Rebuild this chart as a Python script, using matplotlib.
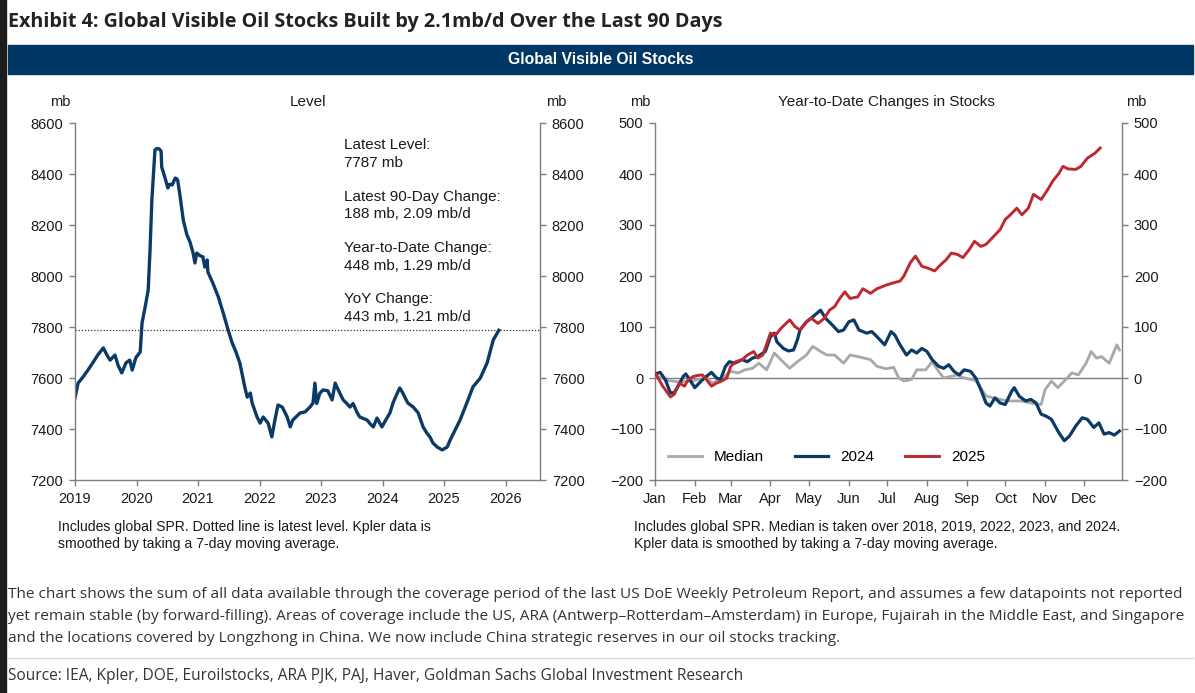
import matplotlib.pyplot as plt
from matplotlib.patches import Rectangle
from matplotlib.lines import Line2D

# level series (decimal year, mb)
level_years = [2019.00, 2019.05, 2019.13, 2019.21, 2019.29, 2019.37, 2019.46, 2019.52, 2019.57, 2019.65,
               2019.70, 2019.76, 2019.83, 2019.89, 2019.93, 2019.99, 2020.06, 2020.09, 2020.14, 2020.17,
               2020.19, 2020.22, 2020.25, 2020.30, 2020.33, 2020.37, 2020.40, 2020.41, 2020.46, 2020.51,
               2020.54, 2020.58, 2020.63, 2020.66, 2020.67, 2020.71, 2020.76, 2020.82, 2020.87, 2020.92,
               2020.95, 2020.98, 2021.03, 2021.08, 2021.11, 2021.15, 2021.16, 2021.24, 2021.33, 2021.41,
               2021.49, 2021.55, 2021.62, 2021.68, 2021.76, 2021.80, 2021.85, 2021.88, 2021.96, 2022.01,
               2022.06, 2022.14, 2022.20, 2022.25, 2022.30, 2022.37, 2022.45, 2022.50, 2022.54, 2022.66,
               2022.74, 2022.82, 2022.87, 2022.90, 2022.93, 2022.98, 2023.03, 2023.11, 2023.18, 2023.23,
               2023.28, 2023.36, 2023.42, 2023.47, 2023.52, 2023.59, 2023.63, 2023.70, 2023.75, 2023.80,
               2023.85, 2023.91, 2023.99, 2024.04, 2024.12, 2024.17, 2024.24, 2024.28, 2024.33, 2024.41,
               2024.50, 2024.58, 2024.66, 2024.72, 2024.77, 2024.82, 2024.89, 2024.97, 2025.05, 2025.10,
               2025.18, 2025.26, 2025.37, 2025.47, 2025.59, 2025.70, 2025.80, 2025.89]
level_mb = [7522, 7580, 7604, 7631, 7660, 7690, 7718, 7690, 7670, 7690,
            7650, 7620, 7660, 7670, 7631, 7680, 7702, 7816, 7878, 7918,
            7945, 8102, 8300, 8494, 8500, 8498, 8490, 8427, 8388, 8345,
            8360, 8357, 8384, 8380, 8375, 8310, 8220, 8161, 8133, 8090,
            8051, 8090, 8080, 8075, 8035, 8063, 8016, 7973, 7918, 7855,
            7788, 7741, 7700, 7659, 7565, 7525, 7541, 7502, 7447, 7423,
            7447, 7423, 7369, 7435, 7494, 7486, 7447, 7408, 7435, 7463,
            7467, 7486, 7502, 7580, 7500, 7540, 7553, 7550, 7514, 7580,
            7553, 7514, 7500, 7486, 7500, 7463, 7447, 7440, 7435, 7420,
            7408, 7443, 7408, 7430, 7463, 7502, 7541, 7561, 7541, 7502,
            7486, 7463, 7408, 7384, 7369, 7345, 7329, 7318, 7329, 7357,
            7396, 7435, 7502, 7565, 7600, 7659, 7749, 7787]
latest_level = 7787
year_ticks = [2019, 2020, 2021, 2022, 2023, 2024, 2025, 2026]

# year-to-date changes (day of year, mb)
median_days = [0, 10, 20, 30, 40, 45, 54, 59, 65, 70, 76, 81, 87, 93, 98, 105, 111, 118, 123, 129,
               134, 140, 147, 152, 158, 163, 168, 173, 180, 186, 190, 194, 200, 204, 211, 216, 221, 225, 230, 236,
               241, 250, 258, 265, 275, 285, 295, 301, 304, 309, 314, 319, 325, 330, 336, 340, 344, 348, 354, 360, 362]
median_mb = [5, -5, -8, -5, 0, -10, 3, 13, 10, 16, 19, 29, 16, 49, 36, 19, 32, 45, 62, 52,
             45, 45, 29, 45, 42, 39, 36, 23, 18, 21, 0, -6, -3, 16, 16, 32, 13, 0, 3, 6,
             0, -5, -35, -40, -45, -45, -50, -52, -23, -6, -19, -6, 10, 6, 29, 52, 39, 42, 29, 65, 55]

y2024_days = [0, 4, 8, 12, 15, 18, 22, 24, 27, 31, 36, 40, 44, 48, 51, 55, 58, 62, 68, 72,
              76, 80, 86, 90, 93, 95, 100, 104, 108, 111, 113, 118, 123, 129, 133, 137, 143, 147, 151, 155,
              159, 165, 169, 173, 179, 184, 187, 191, 196, 200, 204, 208, 212, 216, 221, 225, 229, 233, 237, 241,
              246, 250, 254, 258, 261, 265, 269, 273, 278, 280, 284, 289, 293, 297, 301, 305, 309, 314, 319, 323,
              328, 333, 337, 342, 346, 350, 354, 358, 362]
y2024_mb = [8, 11, -3, -29, -29, -16, 3, 8, -3, -19, -6, 3, 11, 0, -3, 23, 32, 29, 36, 32,
            39, 42, 52, 81, 88, 71, 58, 53, 55, 75, 94, 110, 120, 133, 117, 107, 91, 94, 110, 114,
            94, 88, 91, 81, 65, 91, 84, 65, 45, 55, 49, 58, 52, 36, 23, 19, 26, 13, 6, 16,
            13, 0, -23, -49, -55, -39, -49, -52, -26, -19, -36, -45, -42, -49, -71, -75, -81, -104, -123, -114,
            -94, -78, -81, -97, -88, -110, -107, -112, -104]

y2025_days = [0, 1, 6, 12, 15, 19, 23, 26, 30, 33, 37, 40, 44, 48, 52, 56, 59, 63, 68, 72,
              77, 80, 84, 90, 94, 98, 105, 109, 113, 118, 122, 127, 132, 136, 140, 144, 148, 152, 158, 162,
              168, 173, 180, 185, 191, 194, 199, 203, 208, 212, 218, 223, 227, 231, 236, 240, 245, 249, 254, 258,
              263, 269, 273, 277, 282, 286, 291, 295, 301, 306, 310, 315, 318, 322, 328, 332, 337, 343, 347]
y2025_mb = [9, 6, -16, -37, -32, -10, -16, -3, 3, 5, 6, -3, -16, -10, -6, 0, 23, 32, 36, 45,
            52, 39, 45, 88, 84, 97, 114, 101, 94, 110, 117, 107, 117, 133, 140, 156, 169, 156, 159, 175,
            166, 175, 182, 186, 190, 200, 226, 239, 219, 216, 210, 223, 232, 245, 242, 236, 252, 268, 258, 262,
            275, 291, 311, 320, 333, 320, 333, 360, 350, 369, 386, 402, 415, 410, 409, 415, 431, 441, 451]

month_starts = [0, 31, 59, 90, 120, 151, 181, 212, 243, 273, 304, 334]
month_labels = ['Jan', 'Feb', 'Mar', 'Apr', 'May', 'Jun', 'Jul', 'Aug', 'Sep', 'Oct', 'Nov', 'Dec']

NAVY = '#0c3a66'
RED = '#c0282f'
GREY = '#a8a8a8'
SPINE = '#7f7f7f'
TXT = '#1a1a1a'
W, H = 1195, 693

plt.rcParams['font.family'] = ['Liberation Sans', 'DejaVu Sans']
fig = plt.figure(figsize=(W / 100, H / 100), dpi=100)


def fx(px):
    return px / W


def fy(py):
    return 1 - py / H


def style_axes(ax):
    ax.spines['top'].set_visible(False)
    for s in ['left', 'right', 'bottom']:
        ax.spines[s].set_color(SPINE)
        ax.spines[s].set_linewidth(1.0)
    ax.tick_params(axis='both', direction='out', length=4.5, width=1, color=SPINE,
                   labelsize=10.5, labelcolor=TXT, pad=4)
    ax.tick_params(axis='y', left=True, right=True, labelleft=True, labelright=True)


# page decorations
fig.patches.append(Rectangle((0, 0), fx(6), 1, transform=fig.transFigure, color='#1c1c1c', zorder=0))
fig.patches.append(Rectangle((fx(8), fy(74)), fx(1185), fy(45) - fy(74), transform=fig.transFigure,
                             color='#003764', zorder=0))
fig.text(fx(8), fy(22), 'Exhibit 4: Global Visible Oil Stocks Built by 2.1mb/d Over the Last 90 Days',
         family='Open Sans', fontweight='bold', fontsize=14.2, color='#222222', va='center', ha='left')
fig.text(fx(601), fy(60), 'Global Visible Oil Stocks', color='white', fontweight='bold',
         fontsize=11.3, ha='center', va='center')

# left panel: level
ax1 = fig.add_axes([fx(75), fy(480), fx(465), fy(123) - fy(480)])
ax1.plot(level_years, level_mb, color=NAVY, lw=2.4, solid_joinstyle='round')
ax1.axhline(latest_level, color='#333333', lw=0.9, ls=(0, (1, 1.5)))
ax1.set_xlim(2019, 2026.56)
ax1.set_ylim(7200, 8600)
ax1.set_xticks(year_ticks)
ax1.set_yticks(range(7200, 8601, 200))
style_axes(ax1)

notes = [('Latest Level:', 145), ('7787 mb', 163),
         ('Latest 90-Day Change:', 197), ('188 mb, 2.09 mb/d', 214),
         ('Year-to-Date Change:', 248), ('448 mb, 1.29 mb/d', 266),
         ('YoY Change:', 299), ('443 mb, 1.21 mb/d', 317)]
for txt, py in notes:
    fig.text(fx(344), fy(py), txt, fontsize=11, color=TXT, va='center', ha='left')

fig.text(fx(60), fy(102), 'mb', fontsize=10.5, color=TXT, ha='center', va='center')
fig.text(fx(556), fy(102), 'mb', fontsize=10.5, color=TXT, ha='center', va='center')
fig.text(fx(308), fy(102), 'Level', fontsize=11, color=TXT, ha='center', va='center')

# right panel: year-to-date changes
ax2 = fig.add_axes([fx(655), fy(480), fx(467), fy(123) - fy(480)])
ax2.axhline(0, color=SPINE, lw=1.0, zorder=1)
ax2.plot(median_days, median_mb, color=GREY, lw=2.0, label='Median', zorder=2)
ax2.plot(y2024_days, y2024_mb, color=NAVY, lw=2.3, label='2024', zorder=3)
ax2.plot(y2025_days, y2025_mb, color=RED, lw=2.1, label='2025', zorder=4)
ax2.set_xlim(0, 364)
ax2.set_ylim(-200, 500)
ax2.set_xticks(month_starts)
ax2.set_xticklabels(month_labels)
ax2.set_yticks(range(-200, 501, 100))
style_axes(ax2)
ax2.legend(loc='center left', bbox_to_anchor=(0.015, 0.064), ncol=3, frameon=False,
           fontsize=11, handlelength=2.2, handletextpad=0.8, columnspacing=2.0, borderaxespad=0)

fig.text(fx(640), fy(102), 'mb', fontsize=10.5, color=TXT, ha='center', va='center')
fig.text(fx(1136), fy(102), 'mb', fontsize=10.5, color=TXT, ha='center', va='center')
fig.text(fx(886), fy(102), 'Year-to-Date Changes in Stocks', fontsize=11, color=TXT,
         ha='center', va='center')

# panel footnotes
fig.text(fx(58), fy(527), 'Includes global SPR. Dotted line is latest level. Kpler data is',
         fontsize=10.1, color=TXT, va='center')
fig.text(fx(58), fy(544), 'smoothed by taking a 7-day moving average.', fontsize=10.1, color=TXT, va='center')
fig.text(fx(634), fy(527), 'Includes global SPR. Median is taken over 2018, 2019, 2022, 2023, and 2024.',
         fontsize=10.1, color=TXT, va='center')
fig.text(fx(634), fy(544), 'Kpler data is smoothed by taking a 7-day moving average.',
         fontsize=10.1, color=TXT, va='center')

# description
para = ['The chart shows the sum of all data available through the coverage period of the last US DoE Weekly '
        'Petroleum Report, and assumes a few datapoints not reported',
        'yet remain stable (by forward-filling). Areas of coverage include the US, ARA '
        '(Antwerp\u2013Rotterdam\u2013Amsterdam) in Europe, Fujairah in the Middle East, and Singapore',
        'and the locations covered by Longzhong in China. We now include China strategic reserves in our '
        'oil stocks tracking.']
for i, line in enumerate(para):
    fig.text(fx(8), fy(594 + 22 * i), line, family='Open Sans', fontsize=11.1, color='#333333', va='center')

fig.add_artist(Line2D([fx(8), fx(1193)], [fy(658), fy(658)], color='#d9d9d9', lw=1))
fig.text(fx(8), fy(676), 'Source: IEA, Kpler, DOE, Euroilstocks, ARA PJK, PAJ, Haver, Goldman Sachs Global '
         'Investment Research', family='Open Sans', fontsize=11.2, color='#333333', va='center')

fig.savefig('out.png', dpi=100)
